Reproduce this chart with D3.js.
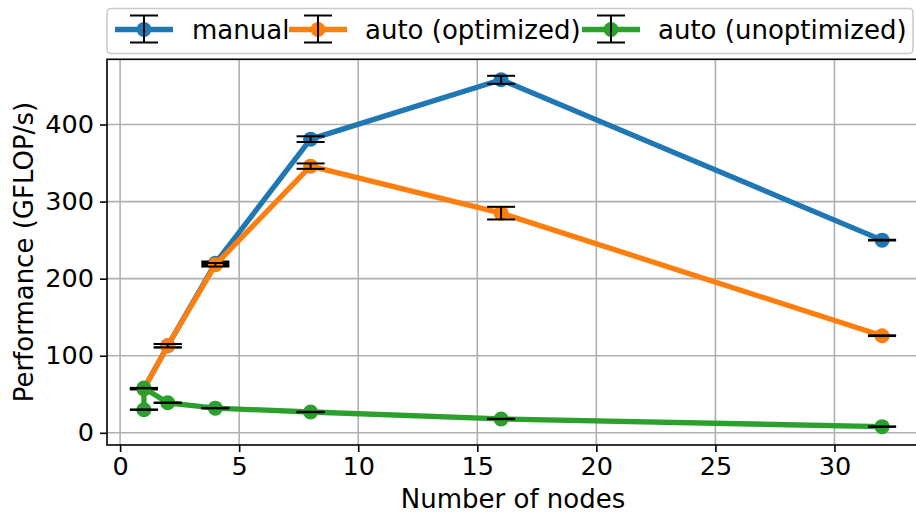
<!DOCTYPE html>
<html>
<head>
<meta charset="utf-8">
<script src="https://cdn.jsdelivr.net/npm/d3@7"></script>
<style>
  html, body { margin: 0; padding: 0; background: #fff; }
  svg { display: block; font-family: "DejaVu Sans", sans-serif; }
</style>
</head>
<body>
<svg id="chart" width="916" height="516"></svg>
<script>
// ---- data ----
const xNodes = [1, 2, 4, 8, 16, 32];
const manualPerf = [57, 113, 220, 381, 458, 250];
const manualErr = [0.5, 2.2, 2.3, 3.7, 5.2, 0.5];
const autoOptPerf = [57, 113, 218, 346, 285, 126];
const autoOptErr = [0.5, 2.2, 2.3, 3.5, 8.2, 0.5];
const autoUnoptX = [1, 1, 2, 4, 8, 16, 32];
const autoUnoptPerf = [30, 58, 39, 32, 27, 18, 8];
const autoUnoptErr = [0.3, 0.3, 0.3, 0.3, 0.3, 0.3, 0.3];
const seriesNames = ["manual", "auto (optimized)", "auto (unoptimized)"];
const seriesColors = ["#1f77b4", "#ff7f0e", "#2ca02c"];
const xTicks = [0, 5, 10, 15, 20, 25, 30];
const yTicks = [0, 100, 200, 300, 400];

const series = [
  { x: xNodes, y: manualPerf, e: manualErr },
  { x: xNodes, y: autoOptPerf, e: autoOptErr },
  { x: autoUnoptX, y: autoUnoptPerf, e: autoUnoptErr }
];

// ---- layout ----
const svg = d3.select("#chart");
const L = 107, R = 919, T = 59.3, B = 445;
const x = d3.scaleLinear().domain([-0.55, 33.55]).range([L, R]);
const y = d3.scaleLinear().domain([-15.8, 484.6]).range([B, T]);

// grid
const grid = svg.append("g");
grid.selectAll("line.vx").data(xTicks).enter().append("line")
  .attr("x1", d => x(d)).attr("x2", d => x(d)).attr("y1", T).attr("y2", B)
  .attr("stroke", "#b0b0b0").attr("stroke-width", 1.6);
grid.selectAll("line.hy").data(yTicks).enter().append("line")
  .attr("x1", L).attr("x2", R).attr("y1", d => y(d)).attr("y2", d => y(d))
  .attr("stroke", "#b0b0b0").attr("stroke-width", 1.6);

// series
const line = d3.line().x(d => x(d[0])).y(d => y(d[1]));
series.forEach((s, i) => {
  const pts = s.x.map((xv, j) => [xv, s.y[j], s.e[j]]);
  const g = svg.append("g");
  g.append("path").datum(pts).attr("d", line)
    .attr("fill", "none").attr("stroke", seriesColors[i])
    .attr("stroke-width", 5.3).attr("stroke-linejoin", "round").attr("stroke-linecap", "butt");
  g.selectAll("circle").data(pts).enter().append("circle")
    .attr("cx", d => x(d[0])).attr("cy", d => y(d[1])).attr("r", 7.5)
    .attr("fill", seriesColors[i]);
  // error bars
  const eb = g.append("g").attr("stroke", "#000");
  pts.forEach(d => {
    const cx = x(d[0]), y0 = y(d[1] - d[2]), y1 = y(d[1] + d[2]);
    eb.append("line").attr("x1", cx).attr("x2", cx).attr("y1", y0).attr("y2", y1).attr("stroke-width", 2);
    eb.append("line").attr("x1", cx - 14).attr("x2", cx + 14).attr("y1", y0).attr("y2", y0).attr("stroke-width", 2);
    eb.append("line").attr("x1", cx - 14).attr("x2", cx + 14).attr("y1", y1).attr("y2", y1).attr("stroke-width", 2);
  });
});

// axes
const xAxis = d3.axisBottom(x).tickValues(xTicks).tickSize(7).tickPadding(5).tickFormat(d3.format("d"));
const gx = svg.append("g").attr("transform", `translate(0,${B})`).call(xAxis);
const yAxis = d3.axisLeft(y).tickValues(yTicks).tickSize(7).tickPadding(6).tickFormat(d3.format("d"));
const gy = svg.append("g").attr("transform", `translate(${L},0)`).call(yAxis);
[gx, gy].forEach(g => {
  g.select(".domain").remove();
  g.selectAll(".tick line").attr("stroke", "#000").attr("stroke-width", 1.6);
  g.selectAll(".tick text").attr("fill", "#000").style("font-size", "25.5px")
    .style("font-family", "DejaVu Sans, sans-serif");
});
// spines
svg.append("rect").attr("x", L).attr("y", T).attr("width", R - L).attr("height", B - T)
  .attr("fill", "none").attr("stroke", "#000").attr("stroke-width", 1.6);

// axis labels
svg.append("text").attr("x", 513).attr("y", 508)
  .attr("text-anchor", "middle").style("font-size", "26px").text("Number of nodes");
svg.append("text").attr("transform", `translate(33,${(T + B) / 2}) rotate(-90)`)
  .attr("text-anchor", "middle").style("font-size", "26px").text("Performance (GFLOP/s)");

// legend
const lg = svg.append("g");
lg.append("rect").attr("x", 107).attr("y", 8.5).attr("width", 806).attr("height", 45)
  .attr("rx", 4).attr("fill", "#fff").attr("fill-opacity", 0.8)
  .attr("stroke", "#cccccc").attr("stroke-width", 1.6);
const handleX = [115, 289, 582];
const textX = [192, 365, 658];
seriesNames.forEach((name, i) => {
  const hx = handleX[i], cy = 29.5, mx = hx + 29;
  lg.append("line").attr("x1", hx).attr("x2", hx + 58).attr("y1", cy).attr("y2", cy)
    .attr("stroke", seriesColors[i]).attr("stroke-width", 5.3);
  lg.append("circle").attr("cx", mx).attr("cy", cy).attr("r", 7.5).attr("fill", seriesColors[i]);
  lg.append("line").attr("x1", mx).attr("x2", mx).attr("y1", 15.5).attr("y2", 42.5)
    .attr("stroke", "#000").attr("stroke-width", 2);
  [15.5, 42.5].forEach(cyy => lg.append("line").attr("x1", mx - 14).attr("x2", mx + 14)
    .attr("y1", cyy).attr("y2", cyy).attr("stroke", "#000").attr("stroke-width", 2));
  lg.append("text").attr("x", textX[i]).attr("y", 38.5).style("font-size", "26px").text(name);
});
</script>
</body>
</html>
